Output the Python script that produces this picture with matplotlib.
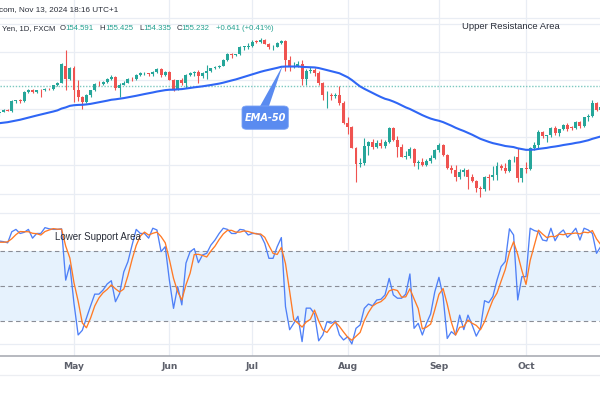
import matplotlib
matplotlib.use("Agg")
import matplotlib.pyplot as plt
import numpy as np
import pandas as pd
from matplotlib.patches import FancyBboxPatch, Polygon
from matplotlib.lines import Line2D

# ---------------- data ----------------
first_date = "2024-04-05"
opens = [151.35, 151.6, 151.85, 151.75, 153.15, 153.3, 153.1, 154.35, 154.65, 154.4,
         154.7, 154.6, 154.8, 154.75, 155.3, 155.65, 158.1, 156.2,
         157.8, 154.7, 153.6, 153.0, 153.9, 154.6, 155.5, 155.45, 155.8, 156.2,
         156.45, 154.9, 155.4, 155.7, 156.25, 156.15, 156.8, 157.0, 157.05, 156.85,
         157.15, 157.6, 156.8, 157.25, 156.1, 154.8, 156.05, 155.6, 156.75, 157.0,
         157.2, 156.7, 157.05, 157.4, 157.7, 157.85, 158.1, 158.95, 159.8, 159.65,
         159.7, 160.75, 160.8, 160.9, 161.5, 161.45, 161.7, 161.2, 160.7, 160.8,
         161.3, 161.6, 158.9, 157.9, 158.1, 158.35, 156.2, 157.4, 157.5, 157.0,
         155.6, 153.9, 154.0, 153.8, 154.0, 152.8, 150.0, 149.4, 146.5, 144.2,
         144.3, 146.7, 147.25, 146.6, 147.2, 146.8, 147.3, 149.3, 147.6, 146.6,
         145.25, 145.3, 146.3, 144.4, 144.5, 144.0, 144.6, 145.0, 146.2, 146.95,
         145.45, 143.7, 143.4, 142.3, 143.1, 143.4, 142.4, 141.85, 140.8, 140.6,
         142.35, 142.3, 142.6, 143.9, 143.6, 143.2, 144.75, 145.2, 142.2, 143.6,
         143.55, 146.45, 146.9, 148.7, 148.2, 148.25, 149.3, 148.6, 149.1, 149.75,
         149.4, 149.3, 150.1, 149.5, 150.8, 151.0, 152.75, 151.8]
highs = [151.75, 151.9, 151.95, 153.25, 153.3, 153.45, 154.45, 154.8, 154.75, 154.7,
         154.75, 154.9, 154.9, 155.4, 155.75, 158.45, 160.3, 157.9,
         158.0, 156.0, 153.8, 154.1, 154.7, 155.6, 155.95, 155.95, 156.3, 156.8,
         156.6, 155.6, 155.9, 156.3, 156.45, 156.9, 157.2, 157.2, 157.1, 157.3,
         157.7, 157.7, 157.4, 157.4, 156.2, 156.1, 156.3, 156.9, 157.2, 157.3,
         157.45, 157.2, 158.2, 157.8, 158.0, 158.2, 159.0, 159.9, 159.9, 159.8,
         160.85, 160.9, 161.3, 161.7, 161.75, 161.95, 161.8, 161.3, 161.0, 161.4,
         161.7, 161.75, 159.45, 158.6, 158.8, 158.85, 157.6, 157.85, 157.7, 157.3,
         155.8, 154.5, 154.2, 154.3, 155.2, 153.1, 150.9, 149.6, 146.6, 145.0,
         147.9, 147.5, 147.8, 147.6, 147.7, 147.6, 149.4, 149.4, 148.1, 147.0,
         146.0, 146.6, 146.5, 144.8, 145.1, 144.9, 145.5, 146.3, 147.2, 147.0,
         145.6, 144.0, 144.0, 143.5, 143.6, 143.5, 142.8, 142.0, 141.1, 142.5,
         142.8, 143.9, 144.5, 144.2, 144.4, 144.85, 145.3, 146.5, 143.7, 144.5,
         146.6, 147.25, 149.0, 148.8, 148.3, 149.4, 149.55, 149.2, 149.9, 149.95,
         149.6, 150.3, 150.3, 150.9, 151.2, 153.2, 152.9, 152.4]
lows = [151.0, 151.55, 151.65, 151.6, 152.75, 152.8, 153.0, 154.2, 154.2, 154.3,
        153.6, 154.5, 154.6, 154.7, 155.2, 155.6, 154.6, 156.0,
        153.0, 153.1, 151.9, 152.8, 153.7, 154.5, 155.2, 155.3, 155.7, 156.0,
        154.7, 153.6, 155.3, 155.6, 155.9, 156.0, 156.6, 156.8, 156.7, 156.7,
        157.0, 156.5, 156.6, 156.0, 154.55, 154.6, 155.3, 154.9, 156.6, 156.7,
        155.7, 156.4, 156.2, 157.2, 157.6, 157.8, 158.0, 158.8, 159.2, 159.4,
        159.6, 160.3, 160.5, 160.8, 161.3, 161.3, 161.1, 160.4, 160.3, 160.7,
        161.2, 157.4, 157.4, 157.8, 157.9, 155.4, 155.4, 157.0, 156.6, 155.4,
        153.25, 152.1, 153.2, 153.5, 152.6, 149.9, 148.5, 146.4, 141.7, 143.8,
        144.1, 145.5, 146.3, 146.4, 146.5, 146.4, 147.2, 147.5, 145.2, 145.2,
        144.9, 145.0, 143.95, 143.5, 143.9, 143.9, 144.4, 144.9, 145.9, 145.3,
        143.5, 142.9, 141.75, 142.1, 142.5, 140.7, 141.6, 140.3, 139.6, 140.4,
        140.5, 141.9, 142.0, 143.4, 142.9, 143.0, 144.5, 141.7, 141.65, 142.95,
        143.4, 146.2, 146.3, 147.9, 147.3, 148.0, 148.3, 148.2, 149.0, 148.9,
        149.0, 149.2, 149.3, 149.4, 150.3, 150.9, 151.7, 151.5]
closes = [151.6, 151.85, 151.75, 153.15, 153.2, 153.1, 154.35, 154.65, 154.4, 154.6,
          154.6, 154.8, 154.75, 155.3, 155.65, 158.35, 156.2, 157.8,
          154.7, 153.6, 153.0, 153.9, 154.6, 155.5, 155.45, 155.8, 156.2, 156.45,
          154.9, 155.4, 155.7, 156.25, 156.15, 156.8, 157.0, 157.05, 156.85, 157.15,
          157.6, 156.8, 157.25, 156.1, 154.8, 156.05, 155.6, 156.75, 157.0, 157.2,
          156.7, 157.05, 157.4, 157.7, 157.85, 158.1, 158.95, 159.8, 159.65, 159.7,
          160.75, 160.8, 160.9, 161.5, 161.45, 161.7, 161.2, 160.7, 160.8, 161.3,
          161.6, 158.9, 157.9, 158.1, 158.35, 156.2, 157.4, 157.5, 157.0, 155.6,
          153.9, 154.0, 153.8, 154.0, 152.8, 150.0, 149.4, 146.5, 144.2, 144.3,
          146.7, 147.25, 146.6, 147.2, 146.8, 147.3, 149.3, 147.6, 146.6, 145.25,
          145.3, 146.3, 144.4, 144.5, 144.0, 144.6, 145.0, 146.2, 146.95, 145.45,
          143.7, 143.4, 142.3, 143.1, 143.4, 142.4, 141.85, 140.8, 140.6, 142.3,
          142.25, 142.6, 143.9, 143.6, 143.2, 144.75, 144.8, 142.2, 143.6, 143.55,
          146.45, 146.9, 148.7, 148.2, 148.25, 149.3, 148.6, 149.1, 149.75, 149.2,
          149.3, 150.1, 149.5, 150.8, 151.0, 152.75, 151.8, 152.3]
ema_start = 149.9          # EMA-50 value just before the first visible bar
last_close = 155.232

# Stochastic RSI %K, starting two bars before the first candle
stoch_k = [88, 86,
           88.5, 88, 87, 96.5, 98.5, 95, 96, 98.5, 91, 95, 95, 100, 99, 98.5, 98.5, 99, 55, 68,
           35, 8, 12, 22.5, 33, 43, 43, 46.5, 51.7, 54.5, 36.5, 43.6, 62, 70.8, 85, 98.5,
           95, 95, 91, 99.5, 98, 79.4, 83.7, 55, 30.8, 49.5, 33.8, 69.6, 79.4, 82, 70,
           76.6, 78, 85, 89.4, 95, 99.5, 98.5, 95, 95, 98.5, 98, 93.7, 95, 95, 93.7,
           86.5, 73.7, 73.7, 83.7, 91.5, 32.3, 12.5, 18, 24, 2.3, 31, 31, 26, 3, 8,
           19.4, 18, 20, 8, 3.7, 6.5, 0.3, 13.7, 16.6, 30.8, 34.5, 33, 38, 38.6, 42.3,
           56.5, 42.3, 39.5, 39.5, 43, 60.3, 13.7, 18, 8, 18, 26, 45, 57.4, 41, 5,
           10.8, 8, 25, 12.6, 25, 16.6, 7, 13.7, 37.4, 35.7, 41, 55, 66.6, 71, 99,
           93.7, 38, 58, 58, 99.5, 97.5, 96.5, 89.4, 88.6, 99.5, 88.8, 95, 98, 91.7,
           95, 99.5, 89.4, 99.5, 98, 95, 78, 83.7]

header1 = "com, Nov 13, 2024 18:16 UTC+1"
title_prefix = "Yen, 1D, FXCM"
ohlc_labels = ["O", "H", "L", "C"]
ohlc_values = ["154.591", "155.425", "154.335", "155.232"]
change_text = "+0.641 (+0.41%)"

# ---------------- derived ----------------
n = len(closes)
dates = pd.bdate_range(first_date, periods=n)
xs = np.arange(n)
o = np.array(opens); h = np.array(highs); l = np.array(lows); c = np.array(closes)
ema = pd.concat([pd.Series([ema_start]), pd.Series(c)]).ewm(span=50, adjust=False).mean().values[1:]
k = pd.Series(stoch_k, dtype=float)
d = k.rolling(3).mean()
k_vis = k.values[2:]
d_vis = d.values[2:]

month_pos = [i for i in range(1, n) if dates[i].month != dates[i - 1].month]
month_lab = [dates[i].strftime("%b") for i in month_pos]

# ---------------- figure ----------------
W, H = 600, 400
fig = plt.figure(figsize=(6, 4), dpi=100)
fig.patch.set_facecolor("white")

i0 = month_pos[0]
px_per_bar = 4.147
xlim = (i0 - 74 / px_per_bar, i0 + (600 - 74) / px_per_bar)

grid_c = "#e9edf4"
green = "#26a69a"
red = "#ef5350"

ax_p = fig.add_axes([0, 0.5, 1, 0.5])
ax_s = fig.add_axes([0, 44 / 400, 1, 156 / 400])
for ax in (ax_p, ax_s):
    ax.set_xlim(*xlim)
    for s in ax.spines.values():
        s.set_visible(False)
    ax.set_yticks([])
    ax.set_facecolor("none")
    for mp in month_pos:
        ax.axvline(mp, color=grid_c, lw=0.9, zorder=0)

# price pane
ax_p.set_ylim(139.11, 167.375)
ax_p.set_xticks([])
for gy in [140, 144, 148, 152, 156, 160, 164]:
    ax_p.axhline(gy, color=grid_c, lw=0.9, zorder=0)

up = c >= o
cols = np.where(up, green, red)
ax_p.vlines(xs, l, h, colors=cols, lw=0.8, zorder=2)
body_bottom = np.minimum(o, c)
body_h = np.maximum(np.abs(c - o), 0.07)
ax_p.bar(xs, body_h, bottom=body_bottom, width=0.72, color=cols, edgecolor="none", zorder=3)
ax_p.plot(xs, ema, color="#2f66f5", lw=1.5, zorder=4)
ax_p.axhline(last_close, color="#7cc9c0", lw=1.0, ls=(0, (1, 1.2)), zorder=1)

# stochastic RSI pane
ax_s.set_ylim(-10.03, 123.7)
for gy in [0, 39.7, 60.3, 112.4]:
    ax_s.axhline(gy, color=grid_c, lw=0.9, zorder=0)
ax_s.axhspan(20, 80, color="#e6f2fd", zorder=0.5, lw=0)
for lv in (80, 50, 20):
    ax_s.axhline(lv, color="#8a8d96", lw=0.8, ls=(0, (4, 3)), zorder=1)
ax_s.plot(xs, k_vis, color="#4f80f7", lw=0.95, zorder=3)
ax_s.plot(xs, d_vis, color="#ff7a26", lw=0.95, zorder=4)
ax_s.spines["bottom"].set_visible(True)
ax_s.spines["bottom"].set_color("#a3a6ae")
ax_s.spines["bottom"].set_linewidth(1.1)
ax_s.set_xticks(month_pos)
ax_s.set_xticklabels(month_lab)
ax_s.tick_params(axis="x", length=0, pad=4.5, labelsize=6.6, labelcolor="#5d606b")
for t in ax_s.get_xticklabels():
    t.set_fontweight("bold")
    t.set_fontfamily("DejaVu Sans")

def fx(x):
    return x / W

def fy(y):
    return 1 - y / H

fig.add_artist(Line2D([0, 1], [fy(18), fy(18)], color=grid_c, lw=0.9))
fig.add_artist(Line2D([0, 1], [fy(375), fy(375)], color="#eceef2", lw=0.9))

txt_kw = dict(family="Liberation Sans", va="center", ha="left")
fig.text(fx(-1), fy(10), header1, fontsize=5.9, color="#2a2e39", **txt_kw)
fig.text(fx(2.5), fy(29), title_prefix, fontsize=5.6, color="#2a2e39", **txt_kw)
lab_x = [60, 99.5, 139.3, 176.7]
val_x = [65.3, 105, 143.5, 181.7]
for lx, vx, lab, val in zip(lab_x, val_x, ohlc_labels, ohlc_values):
    fig.text(fx(lx), fy(29), lab, fontsize=5.6, color="#2a2e39", **txt_kw)
    fig.text(fx(vx), fy(29), val, fontsize=5.6, color="#22a08f", **txt_kw)
fig.text(fx(216.5), fy(29), change_text, fontsize=5.6, color="#22a08f", **txt_kw)

fig.text(fx(461.5), fy(26.7), "Upper Resistance Area", fontsize=6.8, color="#2a2e39", **txt_kw)
fig.text(fx(55), fy(237.3), "Lower Support Area", fontsize=7.0, color="#2a2e39", **txt_kw)

# EMA-50 callout
box_c = "#5a8bf0"
fig.add_artist(Polygon([(fx(259.3), fy(107.5)), (fx(268.5), fy(107.5)), (fx(282.7), fy(65.5))],
                       closed=True, transform=fig.transFigure, facecolor=box_c, edgecolor="none"))
fig.add_artist(FancyBboxPatch((fx(242), fy(129.3)), fx(288.3) - fx(242), fy(106) - fy(129.3),
                              boxstyle="round,pad=0,rounding_size=0.008",
                              transform=fig.transFigure, facecolor=box_c, edgecolor="#7aa2f5", lw=0.6))
fig.text(fx(265.2), fy(117.7), "EMA-50", fontsize=7.0, color="white", style="italic",
         weight="bold", ha="center", va="center", family="DejaVu Sans")

fig.savefig("out.png", dpi=100)
